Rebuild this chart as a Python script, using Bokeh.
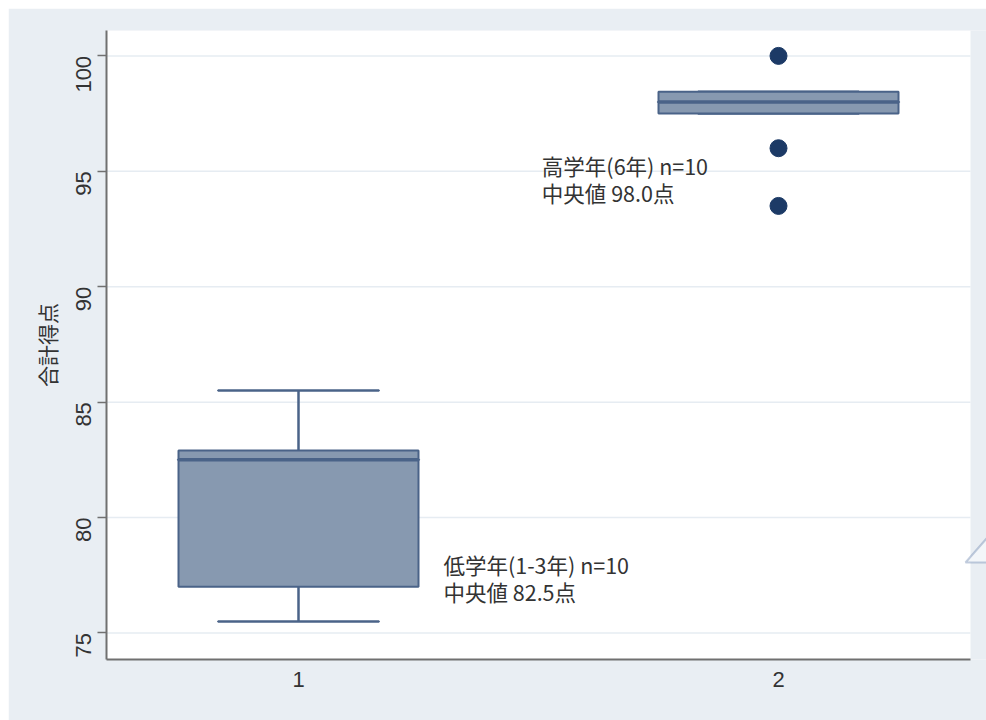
import math
from bokeh.plotting import figure
from bokeh.models import Range1d, FixedTicker, ColumnDataSource, PolyAnnotation, BoxAnnotation
from bokeh.core.properties import value
from bokeh.embed import file_html
from bokeh.resources import INLINE

# ---- data ----
groups = [1, 2]
q1 = [77.0, 97.5]
medians = [82.5, 98.0]
q3 = [82.9, 98.45]
whisker_low = [75.5, 97.5]
whisker_high = [85.5, 98.45]
outlier_group = [2, 2, 2]
outlier_values = [100.0, 96.0, 93.5]
label_line1 = ["低学年(1-3年) n=10", "高学年(6年) n=10"]
label_line2 = ["中央値 82.5点", "中央値 98.0点"]
y_ticks = [75, 80, 85, 90, 95, 100]
x_ticks = [1, 2]
y_title = "合計得点"

# ---- styles ----
BG = "#e9eef3"
BOX_FILL = "#8799b0"
BOX_LINE = "#4a6388"
DOT = "#1c3a66"
TXT = "#333333"
CJK = "Noto Sans CJK JP"
NUM = "Liberation Sans"
BOX_W = 0.5
CAP_W = 0.335
X0, X1 = 0.6, 2.4          # plot region (white) in x
XMAX = 0.6 + 880 / 480     # frame extends to the right edge of the page

p = figure(width=978, height=712, output_backend="svg", toolbar_location=None,
           x_range=Range1d(X0, XMAX), y_range=Range1d(73.85, 101.1),
           min_border_left=98, min_border_right=0, min_border_top=22,
           min_border_bottom=61)
p.margin = (8, 0, 0, 8)
p.border_fill_color = BG
p.background_fill_color = BG
p.outline_line_color = None

# white plotting region
p.add_layout(BoxAnnotation(left=X0, right=X1, fill_color="white", fill_alpha=1,
                           line_color=None, level="underlay"))

# horizontal grid lines limited to the plotting region
p.segment(x0=[X0] * len(y_ticks), y0=y_ticks, x1=[X1] * len(y_ticks), y1=y_ticks,
          line_color="#e6ecf2", line_width=1.5)

src = ColumnDataSource(dict(g=groups, q1=q1, med=medians, q3=q3,
                            lo=whisker_low, hi=whisker_high))

# whiskers
p.segment(x0="g", y0="q3", x1="g", y1="hi", source=src, line_color=BOX_LINE, line_width=2.5)
p.segment(x0="g", y0="q1", x1="g", y1="lo", source=src, line_color=BOX_LINE, line_width=2.5)
# caps
p.rect(x="g", y="hi", width=CAP_W, height=0.0001, source=src, fill_alpha=0,
       line_color=BOX_LINE, line_width=2.5)
p.rect(x="g", y="lo", width=CAP_W, height=0.0001, source=src, fill_alpha=0,
       line_color=BOX_LINE, line_width=2.5)
# boxes
p.vbar(x="g", bottom="q1", top="q3", width=BOX_W, source=src,
       fill_color=BOX_FILL, line_color=BOX_LINE, line_width=2)
# medians
p.rect(x="g", y="med", width=BOX_W, height=0.0001, source=src, fill_alpha=0,
       line_color=BOX_LINE, line_width=3.5)
# outliers
p.scatter(x=outlier_group, y=outlier_values, size=17, fill_color=DOT, line_color=DOT)

# annotations (placed beside each box)
ann = ColumnDataSource(dict(x=[1.302, 1.507], y=[77.95, 95.27], l1=label_line1, l2=label_line2))
p.text(x="x", y="y", text="l1", source=ann, text_font=value(CJK), text_font_size="21.5px",
       text_color=TXT, text_baseline="middle", text_align="left")
p.text(x="x", y="y", text="l2", source=ann, text_font=value(CJK), text_font_size="21.5px",
       text_color=TXT, text_baseline="middle", text_align="left", y_offset=27)

# axes
p.xaxis.ticker = FixedTicker(ticks=x_ticks)
p.yaxis.ticker = FixedTicker(ticks=y_ticks)
p.xaxis.bounds = (X0, X1)
p.yaxis.major_label_orientation = math.pi / 2
for ax in (p.xaxis[0], p.yaxis[0]):
    ax.axis_line_color = "#707070"
    ax.axis_line_width = 2
    ax.major_tick_line_color = "#707070"
    ax.major_tick_line_width = 1.5
    ax.minor_tick_line_color = None
    ax.major_label_text_font = NUM
    ax.major_label_text_font_size = "22px"
    ax.major_label_text_color = TXT
p.yaxis.major_tick_out = 9
p.yaxis.major_tick_in = 0
p.yaxis.major_label_standoff = 14
p.xaxis.major_tick_out = 0
p.xaxis.major_tick_in = 0
p.xaxis.major_label_standoff = 12
p.yaxis.axis_label = y_title
p.yaxis.axis_label_text_font = CJK
p.yaxis.axis_label_text_font_size = "21px"
p.yaxis.axis_label_text_font_style = "normal"
p.yaxis.axis_label_text_color = TXT
p.yaxis.axis_label_standoff = 4

p.xgrid.grid_line_color = None
p.ygrid.grid_line_color = None

# partial triangle at the right edge of the reference
p.add_layout(PolyAnnotation(xs=[957, 1000, 1000], ys=[554, 505, 554],
                            xs_units="canvas", ys_units="canvas",
                            fill_color="#f3f6f9", fill_alpha=1,
                            line_color="#3f5f95", line_width=2))

open("out.html", "w").write(file_html(p, INLINE))
